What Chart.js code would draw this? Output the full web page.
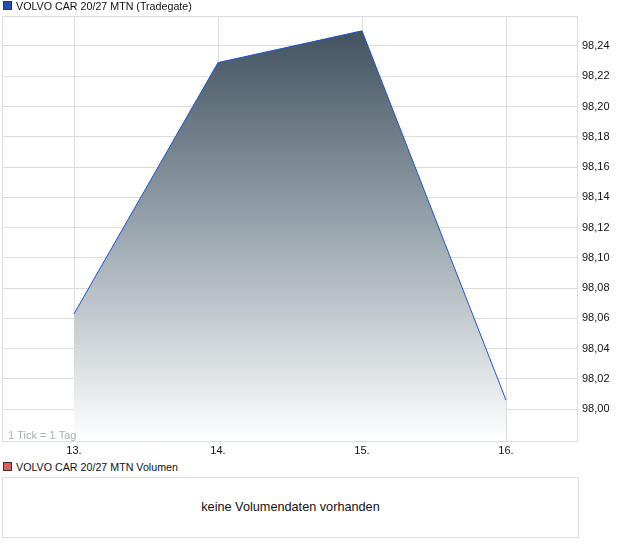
<!DOCTYPE html>
<html><head><meta charset="utf-8">
<script src="https://cdn.jsdelivr.net/npm/chart.js@4/dist/chart.umd.min.js"></script>
<style>
html,body{margin:0;padding:0;background:#fff;width:620px;height:546px;overflow:hidden;font-family:"Liberation Sans",Arial,sans-serif;}
#wrap{position:absolute;left:0;top:0;width:620px;height:460px;}
.leg{position:absolute;left:3px;font-size:10.7px;color:#111;line-height:12px;white-space:nowrap;}
.sq{display:inline-block;width:7px;height:7px;border:1px solid #333;margin-right:4px;vertical-align:0px;}
#vol{position:absolute;left:2px;top:477px;width:575px;height:59px;border:1px solid #ddd;box-sizing:content-box;}
#voltxt{position:absolute;left:0;right:0;top:22px;text-align:center;font-size:12.7px;color:#111;}
</style></head>
<body>
<div id="wrap"><canvas id="c" width="620" height="460"></canvas></div>
<div class="leg" style="top:0px"><span class="sq" style="background:#1f4fb4"></span>VOLVO CAR 20/27 MTN (Tradegate)</div>
<div class="leg" style="top:461px"><span class="sq" style="background:#d9605c"></span>VOLVO CAR 20/27 MTN Volumen</div>
<div id="vol"><div id="voltxt">keine Volumendaten vorhanden</div></div>
<script>
const days = [13, 14, 15, 16];
const dayLabels = ["13.", "14.", "15.", "16."];
const prices = [98.063, 98.229, 98.250, 98.006];
const yTicks = [98.00, 98.02, 98.04, 98.06, 98.08, 98.10, 98.12, 98.14, 98.16, 98.18, 98.20, 98.22, 98.24];
const noteText = "1 Tick = 1 Tag";

const frame = {
  id: 'frame',
  afterDraw(chart) {
    const {ctx, chartArea: a} = chart;
    ctx.save();
    ctx.strokeStyle = '#dcdcdc';
    ctx.lineWidth = 1;
    ctx.strokeRect(a.left + 0.5, a.top + 0.5, a.right - a.left - 1, a.bottom - a.top);
    ctx.font = '11px "Liberation Sans", Arial, sans-serif';
    ctx.fillStyle = '#aab0b8';
    ctx.textBaseline = 'alphabetic';
    ctx.fillText(noteText, a.left + 6, a.bottom - 2);
    ctx.restore();
  }
};

new Chart(document.getElementById('c'), {
  type: 'line',
  data: {
    datasets: [{
      data: days.map((d, i) => ({x: d, y: prices[i]})),
      borderColor: '#1a55cc',
      borderWidth: 1,
      pointRadius: 0,
      tension: 0,
      fill: 'start',
      backgroundColor(ctx) {
        const a = ctx.chart.chartArea;
        if (!a) return '#889';
        const g = ctx.chart.ctx.createLinearGradient(0, a.top, 0, a.bottom);
        g.addColorStop(0, '#3c4d5a');
        g.addColorStop(0.45, '#8f9ca5');
        g.addColorStop(1, '#ffffff');
        return g;
      }
    }]
  },
  options: {
    animation: false,
    responsive: false,
    devicePixelRatio: 1,
    layout: {padding: {left: 2, top: 16, right: 0, bottom: 0}},
    plugins: {legend: {display: false}, tooltip: {enabled: false}},
    scales: {
      x: {
        type: 'linear', min: 12.5, max: 16.5,
        afterBuildTicks(s) { s.ticks = days.map(v => ({value: v})); },
        afterFit(s) { s.height = 19; },
        grid: {color: '#dcdcdc', drawTicks: false},
        border: {display: false},
        ticks: {
          padding: 3, color: '#111',
          font: {family: '"Liberation Sans", Arial, sans-serif', size: 11},
          callback(v) { const i = days.indexOf(v); return i >= 0 ? dayLabels[i] : ''; }
        }
      },
      y: {
        type: 'linear', position: 'right', min: 97.979, max: 98.2598,
        afterBuildTicks(s) { s.ticks = yTicks.map(v => ({value: v})); },
        afterFit(s) { s.width = 42; },
        grid: {color: '#dcdcdc', drawTicks: false},
        border: {display: false},
        ticks: {
          padding: 4, color: '#111',
          font: {family: '"Liberation Sans", Arial, sans-serif', size: 11},
          callback(v) { return v.toFixed(2).replace('.', ','); }
        }
      }
    }
  },
  plugins: [frame]
});
</script>
</body></html>
